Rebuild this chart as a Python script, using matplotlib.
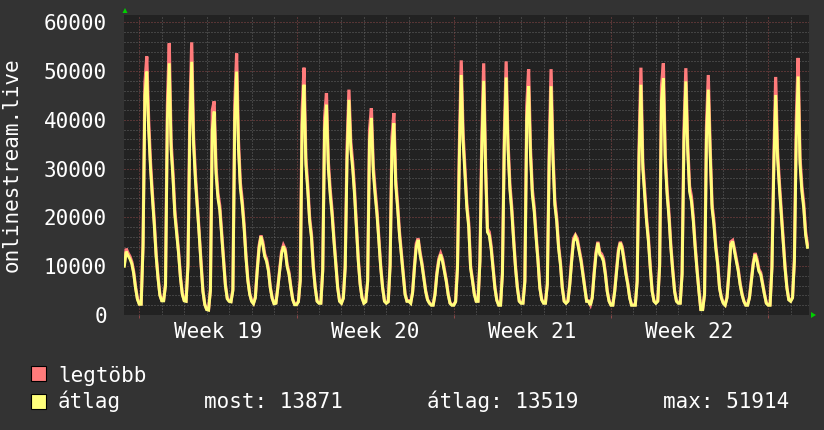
import numpy as np
import matplotlib
matplotlib.use("Agg")
import matplotlib.pyplot as plt
from matplotlib.patches import Rectangle, Polygon

# ---------------- data (2-hour samples, days counted from Monday of week 19) ----------------
# partial Sunday of week 18 (from 08:00)
avg_w18 = [10000, 13000, 12200, 11500, 10500, 8500, 5500, 3200]
max_w18 = [10400, 13600, 12700, 12000, 10900, 8900, 5800, 3400]

avg_w19 = [2200, 2200, 14000, 45000, 49900, 38000, 30000, 24000, 18500, 12000, 7500, 4000,
           2900, 2900, 6000, 40000, 51600, 34000, 28000, 20500, 16400, 12500, 7500, 4200,
           2900, 2800, 10000, 38000, 51914, 35000, 27500, 21900, 16400, 10300, 4800, 2100,
           1100, 1000, 5000, 38000, 41700, 29000, 24000, 21500, 16400, 11000, 6000, 3300,
           2800, 2700, 5000, 40000, 49900, 34000, 26000, 22500, 17800, 11700, 7000, 4200,
           2800, 2300, 3500, 9000, 13700, 16100, 14400, 12000, 11000, 9000, 5500, 3400,
           2300, 2400, 5500, 9000, 12500, 14100, 13000, 9900, 8300, 5500, 3100, 2100]
max_w19 = [2300, 2300, 14800, 47500, 53000, 40000, 31300, 25000, 19300, 12500, 7900, 4200,
           3000, 3000, 6400, 43000, 55700, 35600, 29200, 21400, 17100, 13000, 7900, 4400,
           3000, 2900, 10600, 41000, 55900, 36600, 28700, 22800, 17100, 10800, 5000, 2200,
           1200, 1100, 5300, 42000, 43800, 30300, 25000, 22400, 17100, 11500, 6300, 3500,
           2900, 2800, 5300, 43000, 53600, 35600, 27100, 23500, 18600, 12200, 7300, 4400,
           2900, 2400, 3700, 9400, 14200, 16300, 15000, 12500, 11500, 9400, 5700, 3500,
           2400, 2500, 5700, 9400, 13000, 14300, 13500, 10300, 8700, 5700, 3200, 2200]

avg_w20 = [2100, 2700, 7000, 39000, 47200, 30800, 25500, 19200, 15800, 9500, 5500, 2800,
           2400, 2400, 9000, 38000, 43100, 30100, 24600, 20500, 15100, 10300, 5500, 2800,
           2400, 3400, 9600, 32000, 44100, 34000, 30000, 24600, 17800, 11000, 6200, 3500,
           2400, 2700, 6800, 35600, 40400, 29400, 24600, 20500, 15100, 9600, 5500, 2800,
           2400, 2700, 10000, 34200, 39300, 26700, 21900, 16400, 12400, 8300, 4200, 2800,
           2800, 2400, 4500, 9600, 14100, 15400, 12400, 10300, 7600, 4800, 3100, 2400,
           2000, 2000, 4200, 8300, 11000, 12400, 11000, 9000, 6900, 4200, 2400, 2000]
max_w20 = [2200, 2800, 7400, 42000, 50700, 32200, 26600, 20000, 16500, 9900, 5700, 2900,
           2500, 2500, 9400, 40500, 45500, 31400, 25700, 21400, 15800, 10800, 5700, 2900,
           2500, 3500, 10000, 34500, 46200, 35500, 31300, 25700, 18600, 11500, 6500, 3600,
           2500, 2800, 7100, 38000, 42400, 30700, 25700, 21400, 15800, 10000, 5700, 2900,
           2500, 2800, 10500, 36500, 41400, 27900, 22800, 17100, 12900, 8700, 4400, 2900,
           2900, 2500, 4700, 10000, 14700, 15700, 12900, 10700, 7900, 5000, 3200, 2500,
           2100, 2100, 4400, 8700, 11500, 12600, 11500, 9400, 7200, 4400, 2500, 2100]

avg_w21 = [2000, 2700, 9600, 32200, 49200, 35600, 28700, 21900, 18000, 9600, 7000, 4200,
           2800, 2800, 11000, 34200, 48000, 30000, 17000, 16300, 13500, 9500, 5500, 3000,
           2000, 2000, 8300, 34200, 48700, 34000, 25700, 21200, 15100, 9600, 5500, 2800,
           2400, 2400, 6800, 40000, 46900, 32800, 24600, 21200, 15800, 11000, 5500, 3100,
           2400, 2400, 6200, 31500, 46900, 32000, 22600, 19200, 13700, 10300, 5500, 2800,
           2400, 2800, 6200, 11000, 15100, 16100, 15100, 13000, 11000, 8300, 5500, 2800,
           2800, 2000, 3500, 8300, 12400, 14800, 12400, 12000, 11000, 8300, 4800, 2800]
max_w21 = [2100, 2800, 10000, 34500, 52200, 37200, 29900, 22800, 18800, 10000, 7300, 4400,
           2900, 2900, 11500, 36600, 51600, 31300, 17700, 17000, 14100, 9900, 5700, 3100,
           2100, 2100, 8700, 36600, 52000, 35500, 26800, 22100, 15800, 10000, 5700, 2900,
           2500, 2500, 7100, 42800, 50400, 34200, 25700, 22100, 16500, 11500, 5700, 3200,
           2500, 2500, 6500, 33700, 50400, 33400, 23600, 20000, 14300, 10800, 5700, 2900,
           2500, 2900, 6500, 11500, 15700, 16400, 15700, 13500, 11500, 8700, 5700, 2900,
           2900, 2100, 3700, 8700, 12900, 15000, 12900, 12500, 11500, 8700, 5000, 2900]

avg_w22 = [2000, 2000, 4800, 9000, 13000, 14800, 13500, 11000, 8300, 6200, 3500, 2000,
           2000, 2000, 6800, 32200, 47200, 30100, 24600, 19200, 15100, 9600, 4800, 2800,
           2400, 2800, 10000, 44000, 48500, 31500, 24600, 19900, 13700, 9000, 4800, 2800,
           2400, 2400, 8300, 35600, 47900, 33500, 25300, 23300, 19200, 13700, 9000, 4800,
           1100, 1100, 4200, 36000, 46200, 33000, 21900, 18500, 13700, 10300, 5500, 3500,
           2400, 2000, 3500, 8300, 14400, 15100, 13000, 11000, 9000, 6200, 4200, 2800,
           2000, 2000, 3500, 6900, 10300, 12400, 11000, 9000, 8300, 6200, 4200, 2400]
max_w22 = [2100, 2100, 5000, 9400, 13500, 15000, 14000, 11500, 8700, 6500, 3600, 2100,
           2100, 2100, 7100, 34500, 50700, 31400, 25700, 20000, 15800, 10000, 5000, 2900,
           2500, 2900, 10500, 47000, 51600, 32900, 25700, 20800, 14300, 9400, 5000, 2900,
           2500, 2500, 8700, 38000, 50600, 35000, 26400, 24300, 20000, 14300, 9400, 5000,
           1200, 1200, 4400, 38500, 49200, 34500, 22800, 19300, 14300, 10800, 5700, 3600,
           2500, 2100, 3700, 8700, 15000, 15300, 13500, 11500, 9400, 6500, 4400, 2900,
           2100, 2100, 3700, 7200, 10700, 12700, 11500, 9400, 8700, 6500, 4400, 2500]

# week 23: Monday + Tuesday until 18:00
avg_w23 = [2000, 2000, 9600, 30000, 45100, 32200, 26000, 20500, 15100, 9600, 5500, 3100,
           2800, 3500, 11000, 36000, 48900, 31000, 25300, 21900, 16400, 13871]
max_w23 = [2100, 2100, 10000, 32000, 48800, 33600, 27100, 21400, 15800, 10000, 5700, 3200,
           2900, 3600, 11500, 40000, 52700, 32400, 26400, 22800, 17100, 14400]

week_labels = ["Week 19", "Week 20", "Week 21", "Week 22"]
y_ticks = [0, 10000, 20000, 30000, 40000, 50000, 60000]
legend_max = "legtöbb"
legend_avg = "átlag"
stat_now = "most: 13871"
stat_avg = "átlag: 13519"
stat_max = "max: 51914"
y_title = "onlinestream.live"

avg_all = np.array(avg_w18 + avg_w19 + avg_w20 + avg_w21 + avg_w22 + avg_w23, dtype=float)
max_all = np.array(max_w18 + max_w19 + max_w20 + max_w21 + max_w22 + max_w23, dtype=float)
t = (np.arange(len(avg_all)) - 8) / 12.0   # days, step 2 h, start Sunday 08:00

# ---------------- styling ----------------
W, H = 824, 430
FONT = "DejaVu Sans Mono"
FS = 15
BG = "#333333"
PLOT_BG = "#222222"
MINOR = "#656565"
MAJOR = "#8c4848"
RED = "#ff7b7b"
YEL = "#ffff7b"

fig = plt.figure(figsize=(W / 100, H / 100), dpi=100, facecolor=BG)
ax = fig.add_axes([124 / W, (H - 315) / H, 685 / W, (315 - 14.7) / H])
ax.set_facecolor(PLOT_BG)
ax.set_xlim(-0.681, 29.817)
ax.set_ylim(0, 61560)
for s in ax.spines.values():
    s.set_visible(False)

# grid
for d in range(0, 30):
    c = MAJOR if d % 7 == 0 else MINOR
    ax.axvline(d, color=c, lw=0.72, dashes=(1, 2), zorder=1)
for v in range(2000, 61000, 2000):
    c = MAJOR if v % 10000 == 0 else MINOR
    ax.axhline(v, color=c, lw=0.72, dashes=(1, 2), zorder=1)

# data lines
ax.plot(t, max_all, color=RED, lw=2.3, zorder=3, solid_joinstyle="miter")
ax.plot(t, avg_all, color=YEL, lw=2.1, zorder=4, solid_joinstyle="miter")

# ticks
ax.set_yticks(y_ticks)
ax.set_yticklabels([str(v) for v in y_ticks], fontsize=FS, family=FONT, color="white")
ax.tick_params(axis="y", length=0, pad=12.2)
ax.set_xticks([0, 7, 14, 21, 28])
ax.set_xticklabels([""] * 5)
ax.tick_params(axis="x", which="major", length=2.2, width=0.72, color=MAJOR)
ax.set_xticks([3.5, 10.5, 17.5, 24.5], minor=True)
ax.set_xticklabels(week_labels, minor=True, fontsize=FS, family=FONT, color="white")
ax.tick_params(axis="x", which="minor", length=0, pad=5.0)

# y title
fig.text(12 / W, 1 - 165 / H, y_title, rotation=90, ha="center", va="center",
         fontsize=FS, family=FONT, color="white")

# arrows
gr = "#00d000"
fig.add_artist(Polygon([[122.5 / W, 1 - 13 / H], [127.5 / W, 1 - 13 / H], [125 / W, 1 - 8 / H]],
                       closed=True, transform=fig.transFigure, facecolor=gr, edgecolor="none"))
fig.add_artist(Polygon([[811 / W, 1 - 312 / H], [811 / W, 1 - 318 / H], [816 / W, 1 - 315 / H]],
                       closed=True, transform=fig.transFigure, facecolor=gr, edgecolor="none"))

# legend
def square(x, ytop, color):
    fig.add_artist(Rectangle((x / W, 1 - (ytop + 15) / H), 15 / W, 15 / H,
                             transform=fig.transFigure, facecolor=color,
                             edgecolor="black", lw=0.8))

square(31.5, 366, RED)
square(31.5, 394, YEL)
txt = dict(fontsize=FS, family=FONT, color="white", va="baseline", ha="left")
fig.text(58 / W, 1 - 381.5 / H, legend_max, **txt)
fig.text(58 / W, 1 - 408.5 / H, legend_avg, **txt)
fig.text(203.5 / W, 1 - 408.5 / H, stat_now, **txt)
fig.text(427 / W, 1 - 408.5 / H, stat_avg, **txt)
fig.text(663 / W, 1 - 408.5 / H, stat_max, **txt)

fig.savefig("out.png", dpi=100, facecolor=BG)
